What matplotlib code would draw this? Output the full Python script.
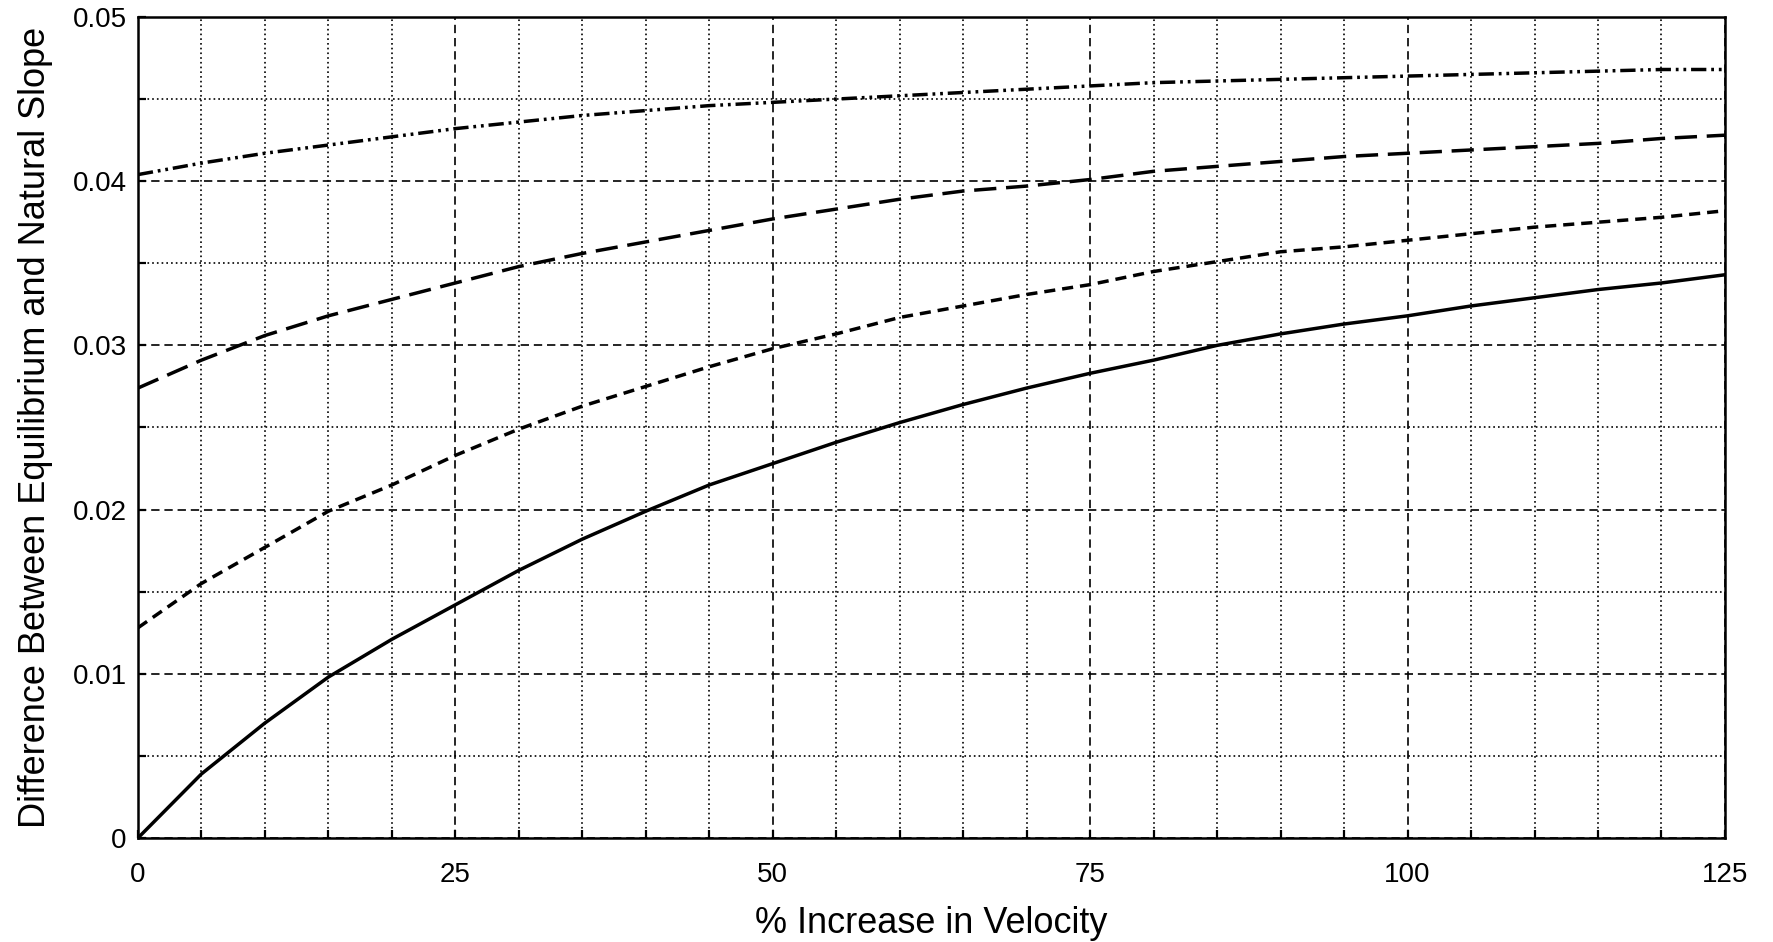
import matplotlib
matplotlib.use("Agg")
import matplotlib.pyplot as plt
from matplotlib.ticker import MultipleLocator, FixedLocator

plt.rcParams['font.family'] = ['Liberation Sans', 'DejaVu Sans']
plt.rcParams['lines.scale_dashes'] = False

# % increase in velocity
pct = [0, 5, 10, 15, 20, 25, 30, 35, 40, 45, 50, 55, 60, 65, 70, 75,
       80, 85, 90, 95, 100, 105, 110, 115, 120, 125]

# slope difference, one list per curve
solid = [0.0, 0.0039, 0.0070, 0.0098, 0.0121, 0.0142, 0.0163, 0.0182, 0.0199,
         0.0215, 0.0228, 0.0241, 0.0253, 0.0264, 0.0274, 0.0283, 0.0291, 0.0300,
         0.0307, 0.0313, 0.0318, 0.0324, 0.0329, 0.0334, 0.0338, 0.0343]
short_dash = [0.0128, 0.0155, 0.0177, 0.0199, 0.0215, 0.0233, 0.0249, 0.0263,
              0.0275, 0.0287, 0.0298, 0.0307, 0.0317, 0.0324, 0.0331, 0.0337,
              0.0345, 0.0351, 0.0357, 0.0360, 0.0364, 0.0368, 0.0372, 0.0375,
              0.0378, 0.0382]
long_dash = [0.0274, 0.0291, 0.0306, 0.0318, 0.0328, 0.0338, 0.0348, 0.0356,
             0.0363, 0.0370, 0.0377, 0.0383, 0.0389, 0.0394, 0.0397, 0.0401,
             0.0406, 0.0409, 0.0412, 0.0415, 0.0417, 0.0419, 0.0421, 0.0423,
             0.0426, 0.0428]
dash_dot = [0.0404, 0.0411, 0.0417, 0.0422, 0.0427, 0.0432, 0.0436, 0.0440,
            0.0443, 0.0446, 0.0448, 0.0450, 0.0452, 0.0454, 0.0456, 0.0458,
            0.0460, 0.0461, 0.0462, 0.0463, 0.0464, 0.0465, 0.0466, 0.0467,
            0.0468, 0.0468]

xticks = [0, 25, 50, 75, 100, 125]
yticks = [0, 0.01, 0.02, 0.03, 0.04, 0.05]
ytick_labels = ['0', '0.01', '0.02', '0.03', '0.04', '0.05']

fig = plt.figure(figsize=(17.73, 9.42), dpi=100)
ax = fig.add_axes([0.0778, 0.1104, 0.8951, 0.8716])

lw = 2.5
ax.plot(pct, solid, color='black', lw=lw, solid_joinstyle='round')
ax.plot(pct, short_dash, color='black', lw=lw, linestyle=(0, (8, 5)))
ax.plot(pct, long_dash, color='black', lw=lw, linestyle=(0, (16, 7)))
ax.plot(pct, dash_dot, color='black', lw=lw,
        linestyle=(0, (11, 3.5, 2, 3.5, 2, 3.5)))

ax.set_xlim(0, 125)
ax.set_ylim(0, 0.05)
ax.xaxis.set_major_locator(FixedLocator(xticks))
ax.xaxis.set_minor_locator(MultipleLocator(5))
ax.yaxis.set_major_locator(FixedLocator(yticks))
ax.yaxis.set_minor_locator(MultipleLocator(0.005))
ax.set_yticklabels(ytick_labels)

ax.grid(which='major', color='black', lw=1.2, linestyle=(0, (6, 3.5)))
ax.grid(which='minor', color='black', lw=1.2, linestyle=(0, (1.2, 2.2)))
ax.set_axisbelow(True)

ax.tick_params(which='both', direction='in', length=6, width=1.6,
               labelsize=20, top=False, right=False)
ax.tick_params(axis='x', which='major', pad=17)
ax.tick_params(axis='y', which='major', pad=8)

for s in ax.spines.values():
    s.set_linewidth(1.8)

ax.set_xlabel('% Increase in Velocity', fontsize=26, labelpad=13)
ax.set_ylabel('Difference Between Equilibrium and Natural Slope', fontsize=26,
              labelpad=14)

fig.savefig('out.png', dpi=100)
